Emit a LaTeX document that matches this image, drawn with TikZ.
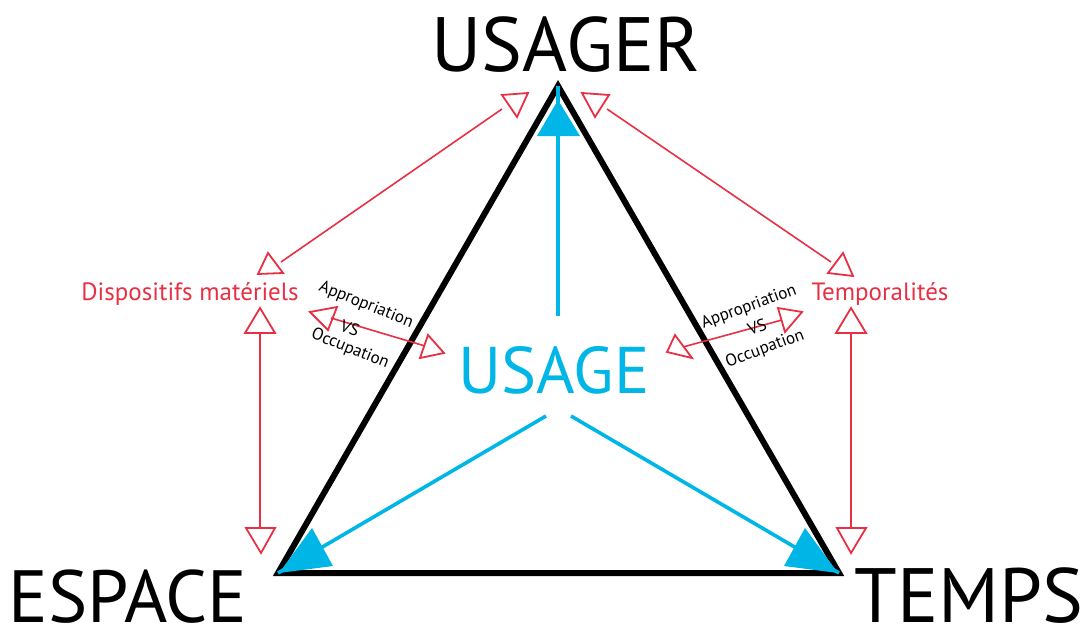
\documentclass[tikz,border=0pt]{standalone}
\usepackage{fontspec}
\setmainfont{PT Sans}
\definecolor{redl}{RGB}{232,48,68}
\definecolor{bluel}{RGB}{0,182,230}
\begin{document}
\begin{tikzpicture}[x=1pt,y=-1pt,
  big/.style={font=\fontsize{77}{77}\selectfont,anchor=base,inner sep=0},
  lab/.style={font=\fontsize{25}{25}\selectfont,text=redl,anchor=base,inner sep=0},
  small/.style={font=\fontsize{17}{17}\selectfont,inner sep=0},
  redline/.style={draw=redl,line width=1.6pt},
  tri/.style={draw=redl,line width=1.8pt,line join=miter},
  blueline/.style={draw=bluel,line width=3.6pt},
  bluetip/.style={fill=bluel},
  edge/.style={draw=black,line width=6pt,line join=miter}]
\useasboundingbox (0,0) rectangle (1089,626);
% labels
\node[big] (usager) at (566,71) {USAGER};
\node[big,font=\fontsize{74}{74}\selectfont] (espace) at (128,622) {ESPACE};
\node[big] (temps) at (969,622) {TEMPS};
\node[big,text=bluel,font=\fontsize{66}{66}\selectfont] (usage) at (554,393) {USAGE};
\node[lab] (disp) at (190,300) {Dispositifs matériels};
\node[lab] (temp) at (880,300) {Temporalités};
% triangle vertices
\coordinate (A) at (558,86);
\coordinate (B) at (278,573);
\coordinate (C) at (839,573);
\draw[edge] (A) -- (B) -- (C) -- cycle;
% blue arrows
\coordinate (u1) at (558,316);
\coordinate (u2) at (546,416);
\coordinate (u3) at (571,416);
\draw[blueline] (u1) -- (A);
\draw[blueline] (u2) -- (B);
\draw[blueline] (u3) -- (C);
\fill[bluetip] (558,100) -- (537,136) -- (580,136) -- cycle;
\fill[bluetip] (279,573) -- (312,528) -- (333,566) -- cycle;
\fill[bluetip] (838,573) -- (805,528) -- (784,566) -- cycle;
% red connectors
\coordinate (l1) at (281,262);
\coordinate (l2) at (502,109);
\coordinate (r1) at (607,109);
\coordinate (r2) at (831,262);
\draw[redline] (l1) -- (l2);
\draw[redline] (r1) -- (r2);
\coordinate (v1) at (260,333);
\coordinate (v2) at (260,528);
\coordinate (w1) at (851,333);
\coordinate (w2) at (851,528);
\draw[redline] (v1) -- (v2);
\draw[redline] (w1) -- (w2);
\coordinate (s1) at (331,318);
\coordinate (s2) at (425,346);
\coordinate (t1) at (683,347);
\coordinate (t2) at (782,320);
\draw[redline] (s1) -- (s2);
\draw[redline] (t1) -- (t2);
% open triangles
\draw[tri] (268,253) -- (258,274) -- (283,273) -- cycle;
\draw[tri] (502,95) -- (528,93) -- (517,117) -- cycle;
\draw[tri] (582,93) -- (609,95) -- (595,117) -- cycle;
\draw[tri] (843,253) -- (828,273) -- (853,276) -- cycle;
\draw[tri] (260,308) -- (245,333) -- (275,333) -- cycle;
\draw[tri] (246,528) -- (275,528) -- (261,553) -- cycle;
\draw[tri] (851,308) -- (836,333) -- (866,333) -- cycle;
\draw[tri] (837,528) -- (866,528) -- (851,553) -- cycle;
\draw[tri] (310,312) -- (337,307) -- (328,330) -- cycle;
\draw[tri] (444,353) -- (428,335) -- (420,358) -- cycle;
\draw[tri] (667,352) -- (675,335) -- (692,358) -- cycle;
\draw[tri] (802,312) -- (778,308) -- (785,332) -- cycle;
% small texts
\node[small,rotate=-22] (ap1) at (366,305) {Appropriation};
\node[small,rotate=-22] (vs1) at (350,328) {VS};
\node[small,rotate=-22] (oc1) at (350,349) {Occupation};
\node[small,rotate=20] (ap2) at (749,307) {Appropriation};
\node[small,rotate=20] (vs2) at (757,327) {VS};
\node[small,rotate=20] (oc2) at (765,349) {Occupation};
\end{tikzpicture}
\end{document}
